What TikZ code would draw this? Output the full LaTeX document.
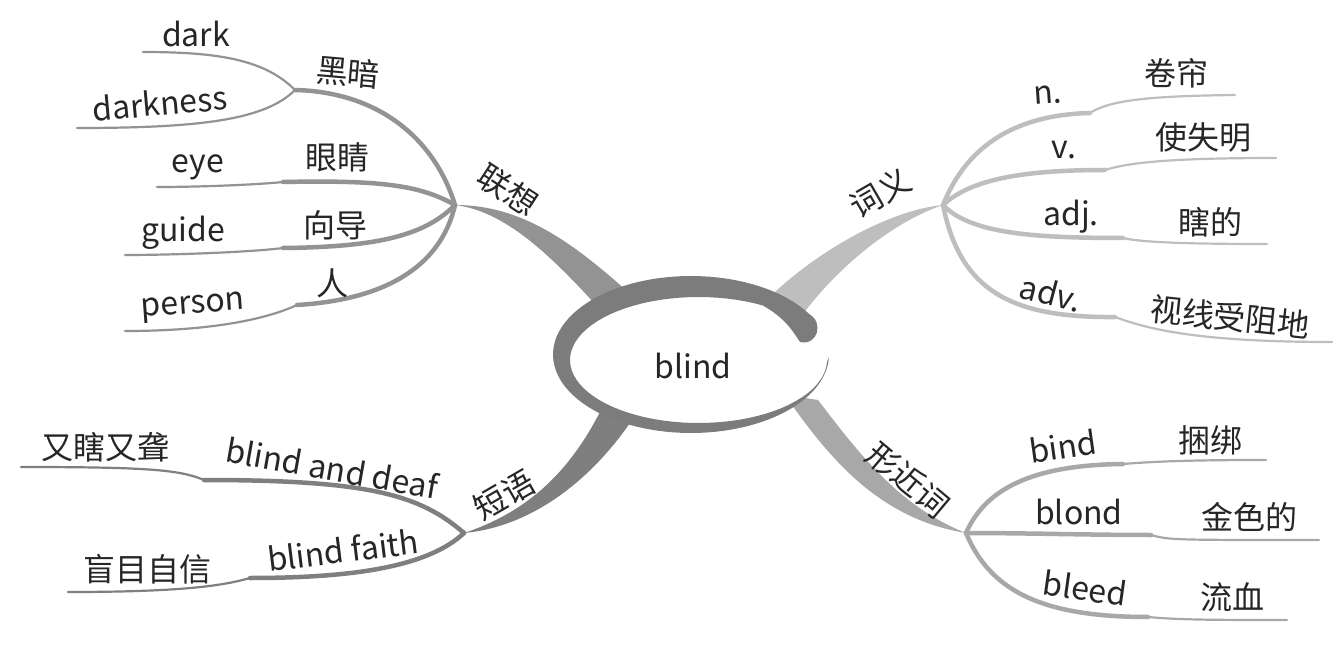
\documentclass[tikz,border=0pt]{standalone}
\usepackage{fontspec}
\setmainfont{Noto Sans CJK SC}
\usepackage{tikz}
\usetikzlibrary{calc}

\definecolor{assocgray}{HTML}{939393}
\definecolor{sensegray}{HTML}{BEBEBE}
\definecolor{phrasegray}{HTML}{7F7F7F}
\definecolor{lookgray}{HTML}{A8A8A8}
\definecolor{ringgray}{HTML}{7C7C7C}

\begin{document}
\begin{tikzpicture}[
  x=1pt, y=-1pt,
  word/.style  = {font=\fontsize{32}{34}\selectfont, text=black!85, inner sep=0pt},
  twig/.style  = {line width=4.5pt, line cap=round},
  hair/.style  = {line width=2.2pt, line cap=round}
]
  \fill[white] (0,0) rectangle (1341,652);
  \useasboundingbox (0,0) rectangle (1341,652);

  % knots where the limbs split
  \coordinate (k1) at (455,205);
  \coordinate (k2) at (943,205);
  \coordinate (k3) at (464,533);
  \coordinate (k4) at (966,533);

  % limb ends under the ring
  \coordinate (r1a) at (628,292);  \coordinate (r1b) at (596,305);
  \coordinate (r2a) at (775,292);  \coordinate (r2b) at (800,318);
  \coordinate (r3a) at (600,412);  \coordinate (r3b) at (632,420);
  \coordinate (r4a) at (785,395);  \coordinate (r4b) at (818,400);

  % kinks and free ends
  \coordinate (a1) at (295,90);   \coordinate (a1u) at (143,52);  \coordinate (a1d) at (77,128);
  \coordinate (a2) at (283,182);  \coordinate (a2e) at (157,187);
  \coordinate (a3) at (283,248);  \coordinate (a3e) at (125,255);
  \coordinate (a4) at (297,305);  \coordinate (a4e) at (125,331);

  \coordinate (b1) at (1090,113); \coordinate (b1e) at (1235,95);
  \coordinate (b2) at (1105,170); \coordinate (b2e) at (1276,158);
  \coordinate (b3) at (1123,238); \coordinate (b3e) at (1267,244);
  \coordinate (b4) at (1115,317); \coordinate (b4e) at (1332,342);

  \coordinate (c1) at (204,480);  \coordinate (c1e) at (21,467);
  \coordinate (c2) at (250,578);  \coordinate (c2e) at (68,592);

  \coordinate (d1) at (1123,464); \coordinate (d1e) at (1266,460);
  \coordinate (d2) at (1151,535); \coordinate (d2e) at (1319,540);
  \coordinate (d3) at (1148,617); \coordinate (d3e) at (1287,620);

  % main limbs
  \fill[assocgray] (k1) .. controls +(65,0) and +(-58,-52) .. (r1a) -- (r1b)
    .. controls +(-46,-50) and +(50,6) .. (k1) -- cycle;
  \fill[sensegray] (k2) .. controls +(-53,5) and +(45,-42) .. (r2a) -- (r2b)
    .. controls +(35,-48) and +(-53,18) .. (k2) -- cycle;
  \fill[phrasegray] (k3) .. controls +(66,-22) and +(-30,58) .. (r3a) -- (r3b)
    .. controls +(-42,62) and +(66,-6) .. (k3) -- cycle;
  \fill[lookgray] (r4a) .. controls +(45,65) and +(-86,-14) .. (k4)
    .. controls +(-66,-26) and +(42,55) .. (r4b) -- cycle;

  % association
  \draw[twig, assocgray] (k1) .. controls +(-20,-65) and +(85,2) .. (a1);
  \draw[twig, assocgray] (k1) .. controls +(-35,-20) and +(97,-2) .. (a2);
  \draw[twig, assocgray] (k1) .. controls +(-30,30) and +(97,-1) .. (a3);
  \draw[twig, assocgray] (k1) .. controls +(-15,65) and +(83,-5) .. (a4);
  \draw[hair, assocgray] (a1) .. controls +(-30,-30) and +(77,0) .. (a1u);
  \draw[hair, assocgray] (a1) .. controls +(-30,30) and +(123,0) .. (a1d);
  \draw[hair, assocgray] (a2) .. controls +(-30,3) and +(40,0) .. (a2e);
  \draw[hair, assocgray] (a3) .. controls +(-30,4) and +(50,0) .. (a3e);
  \draw[hair, assocgray] (a4) .. controls +(-37,17) and +(75,0) .. (a4e);

  % senses
  \draw[twig, sensegray] (k2) .. controls +(22,-55) and +(-80,2) .. (b1);
  \draw[twig, sensegray] (k2) .. controls +(27,-25) and +(-85,0) .. (b2);
  \draw[twig, sensegray] (k2) .. controls +(27,28) and +(-93,0) .. (b3);
  \draw[twig, sensegray] (k2) .. controls +(17,85) and +(-105,1) .. (b4);
  \draw[hair, sensegray] (b1) .. controls +(20,-13) and +(-85,1) .. (b1e);
  \draw[hair, sensegray] (b2) .. controls +(25,-8) and +(-100,0) .. (b2e);
  \draw[hair, sensegray] (b3) .. controls +(17,4) and +(-87,0) .. (b3e);
  \draw[hair, sensegray] (b4) .. controls +(35,13) and +(-130,0) .. (b4e);

  % phrases
  \draw[twig, phrasegray] (k3) .. controls +(-44,-38) and +(166,0) .. (c1);
  \draw[twig, phrasegray] (k3) .. controls +(-34,32) and +(110,0) .. (c2);
  \draw[hair, phrasegray] (c1) .. controls +(-24,-10) and +(130,0) .. (c1e);
  \draw[hair, phrasegray] (c2) .. controls +(-25,7) and +(120,0) .. (c2e);

  % look-alikes
  \draw[twig, lookgray] (k4) .. controls +(19,-43) and +(-93,1) .. (d1);
  \draw[twig, lookgray] (k4) .. controls +(60,0) and +(-60,0) .. (d2);
  \draw[twig, lookgray] (k4) .. controls +(24,57) and +(-108,0) .. (d3);
  \draw[hair, lookgray] (d1) .. controls +(37,-3) and +(-66,0) .. (d1e);
  \draw[hair, lookgray] (d2) .. controls +(19,5) and +(-149,0) .. (d2e);
  \draw[hair, lookgray] (d3) .. controls +(32,3) and +(-67,0) .. (d3e);

  % the ring
  \fill[white] plot[domain=0:360, samples=90] ({698.5+128.5*cos(\x)},{360+63*sin(\x)}) -- cycle;
  \fill[ringgray] plot[domain=-31:-358, samples=90] ({691+138*cos(\x)},{354.5+78.5*sin(\x)})
    -- plot[domain=-358:-60, samples=70] ({698.5+128.5*cos(\x)},{360+63*sin(\x)})
    .. controls (785,318) and (792,330) .. (800,342)
    .. controls (818,346) and (824,322) .. (809,314) -- cycle;
  \node[word] (core) at (693,366) {blind};

  % labels
  \node[word, rotate=-33] (lianx) at (508,190) {联想};
  \node[word, rotate=-5]  (hei)   at (348,72)  {黑暗};
  \node[word]             (dark)  at (196,34)  {dark};
  \node[word, rotate=5]   (dkns)  at (160,103) {darkness};
  \node[word]             (yan)   at (337,157) {眼睛};
  \node[word]             (eye)   at (198,167) {eye};
  \node[word]             (xiang) at (335,225) {向导};
  \node[word]             (guide) at (183,233) {guide};
  \node[word]             (ren)   at (332,283) {人};
  \node[word, rotate=4]   (pers)  at (193,308) {person};

  \node[word, rotate=30]  (ciyi)  at (880,193) {词义};
  \node[word, rotate=4]   (noun)  at (1048,95) {n.};
  \node[word]             (juan)  at (1176,73) {卷帘};
  \node[word]             (verb)  at (1064,150) {v.};
  \node[word]             (shi)   at (1203,137) {使失明};
  \node[word]             (adj)   at (1071,217) {adj.};
  \node[word]             (xia)   at (1210,222) {瞎的};
  \node[word, rotate=-15] (adv)   at (1051,293) {adv.};
  \node[word, rotate=-6]  (shix)  at (1230,317) {视线受阻地};

  \node[word, rotate=30]  (duan)  at (504,495) {短语};
  \node[word, rotate=-10] (bad)   at (332,468) {blind and deaf};
  \node[word]             (you)   at (105,447) {又瞎又聋};
  \node[word, rotate=7]   (bf)    at (343,550) {blind faith};
  \node[word]             (mang)  at (147,569) {盲目自信};

  \node[word, rotate=-40] (xing)  at (908,480) {形近词};
  \node[word, rotate=8]   (bind)  at (1063,446) {bind};
  \node[word]             (kun)   at (1210,440) {捆绑};
  \node[word]             (blond) at (1079,512) {blond};
  \node[word]             (jin)   at (1249,517) {金色的};
  \node[word, rotate=-8]  (bleed) at (1085,588) {bleed};
  \node[word]             (liu)   at (1232,597) {流血};
\end{tikzpicture}
\end{document}
